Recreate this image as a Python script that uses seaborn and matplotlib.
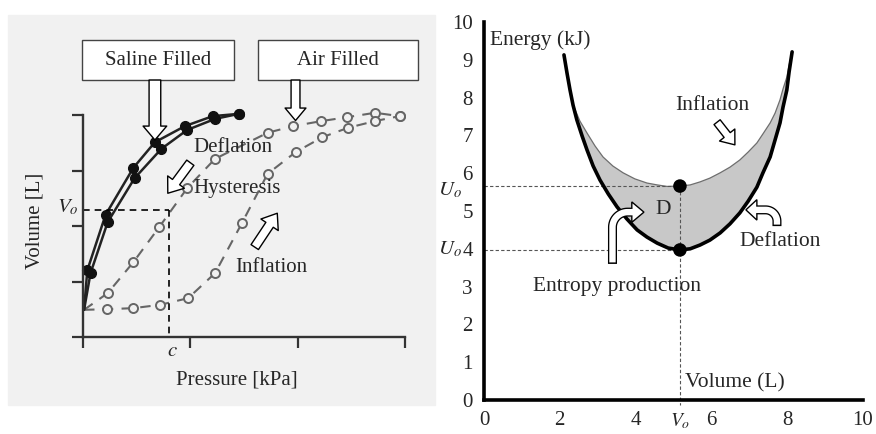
import numpy as np
import matplotlib
matplotlib.use('Agg')
import matplotlib.pyplot as plt
import seaborn as sns
from matplotlib.patches import Rectangle, Polygon

# Left panel: pressure-volume curves (axis units)
saline_p_a = [0.01, 0.04, 0.21, 0.47, 0.67, 0.95, 1.21, 1.45]
saline_v_a = [0.49, 1.20, 2.20, 3.05, 3.51, 3.80, 3.98, 4.02]
saline_p_b = [0.01, 0.07, 0.23, 0.48, 0.73, 0.97, 1.23, 1.45]
saline_v_b = [0.49, 1.15, 2.07, 2.86, 3.39, 3.73, 3.93, 4.02]

air_defl_p = [0.01, 0.23, 0.47, 0.71, 0.97, 1.23, 1.72, 1.96, 2.22, 2.46, 2.72, 2.95]
air_defl_v = [0.49, 0.79, 1.35, 1.98, 2.68, 3.21, 3.68, 3.80, 3.89, 3.96, 4.04, 3.98]
air_infl_p = [0.01, 0.22, 0.47, 0.72, 0.98, 1.23, 1.48, 1.72, 1.98, 2.23, 2.47, 2.72, 2.95]
air_infl_v = [0.49, 0.50, 0.52, 0.58, 0.70, 1.15, 2.05, 2.94, 3.33, 3.60, 3.77, 3.89, 3.98]

v_o_left = 2.29
c_left = 0.80

# Right panel: energy vs volume
defl_vol = [2.11, 2.19, 2.27, 2.35, 2.45, 2.59, 2.72, 2.88, 3.06, 3.28, 3.51, 3.77, 4.04, 4.30,
            4.57, 4.86, 5.17, 5.44, 5.70, 5.96, 6.23, 6.49, 6.75, 6.97, 7.20, 7.36, 7.55, 7.68,
            7.81, 7.89, 7.99, 8.05, 8.13]
defl_energy = [9.13, 8.65, 8.20, 7.80, 7.41, 6.98, 6.61, 6.19, 5.82, 5.45, 5.11, 4.79, 4.50, 4.31,
               4.15, 4.02, 3.97, 4.00, 4.10, 4.23, 4.42, 4.66, 4.95, 5.26, 5.63, 6.01, 6.43, 6.88,
               7.33, 7.75, 8.20, 8.68, 9.21]
infl_vol = [2.37, 2.53, 2.72, 2.93, 3.14, 3.40, 3.67, 3.98, 4.30, 4.57, 4.83, 5.17, 5.44, 5.70,
            5.96, 6.23, 6.49, 6.75, 6.97, 7.20, 7.36, 7.55, 7.68, 7.81, 7.89, 7.99, 8.05, 8.13]
infl_energy = [7.76, 7.38, 7.06, 6.72, 6.43, 6.19, 6.01, 5.85, 5.74, 5.69, 5.65, 5.66, 5.69, 5.77,
               5.87, 6.01, 6.16, 6.35, 6.56, 6.80, 7.04, 7.33, 7.59, 7.94, 8.23, 8.54, 8.86, 9.21]
ticks_right = [0, 2, 4, 6, 8, 10]
yticks_right = list(range(0, 11))

SERIF = ['Liberation Serif', 'DejaVu Serif']


def bent_arrow(ax, x0, y0, yh, r, xb, xt, hw, d):
    # hollow bent arrow: vertical shaft, quarter turn, horizontal head
    th = np.linspace(np.pi if d > 0 else 0.0, np.pi / 2, 25)
    cx, cy = x0 + d * r, yh - r
    xs = np.concatenate([[x0], cx + r * np.cos(th), [xb]])
    ys = np.concatenate([[y0], cy + r * np.sin(th), [yh]])
    ax.plot(xs, ys, color='black', lw=6.5, solid_capstyle='butt', zorder=6)
    ax.add_patch(Polygon([(xb, yh - hw), (xt, yh), (xb, yh + hw)], closed=True,
                         fc='white', ec='black', lw=1.0, zorder=7))
    xs_w = xs.copy(); ys_w = ys.copy()
    ys_w[0] = y0 + 0.04
    xs_w[-1] = xb + d * 0.04
    ax.plot(xs_w, ys_w, color='white', lw=4.6, solid_capstyle='butt', zorder=8)


sns.set_style('white')
plt.rcParams['font.family'] = SERIF
plt.rcParams['mathtext.fontset'] = 'stix'

fig = plt.figure(figsize=(8.76, 4.34), dpi=100)
fig.add_artist(Rectangle((8 / 876, 29 / 434), 427 / 876, 390 / 434, transform=fig.transFigure,
                         color='#f1f1f1', zorder=-1))

# ---------------- left panel ----------------
axl = fig.add_axes([83 / 876, 97 / 434, 322 / 876, 222 / 434])
axl.set_facecolor('none')
axl.set_xlim(0, 3)
axl.set_ylim(0, 4)
for s in ['top', 'right']:
    axl.spines[s].set_visible(False)
for s in ['left', 'bottom']:
    axl.spines[s].set_color('#333333')
    axl.spines[s].set_linewidth(1.7)
axl.set_xticks([0, 1, 2, 3])
axl.set_yticks([0, 1, 2, 3, 4])
axl.tick_params(direction='out', length=8, width=1.6, color='#333333',
                labelbottom=False, labelleft=False, bottom=True, left=True)

for p, v in [(air_defl_p, air_defl_v), (air_infl_p, air_infl_v)]:
    sns.lineplot(x=p, y=v, ax=axl, color='#666666', lw=1.5, linestyle=(0, (5, 4)),
                 marker='o', markersize=6.5, mfc='#f1f1f1', mec='#666666', mew=1.4,
                 markevery=list(range(1, len(p))), estimator=None, sort=False, clip_on=False)
for p, v in [(saline_p_a, saline_v_a), (saline_p_b, saline_v_b)]:
    sns.lineplot(x=p, y=v, ax=axl, color='#222222', lw=1.8,
                 marker='o', markersize=7, mfc='#111111', mec='#111111', mew=1,
                 markevery=list(range(1, len(p))), estimator=None, sort=False, clip_on=False)

axl.plot([0, c_left], [v_o_left, v_o_left], color='black', lw=1.2, ls=(0, (4, 3)), clip_on=False)
axl.plot([c_left, c_left], [v_o_left, 0.03], color='black', lw=1.2, ls=(0, (4, 3)), clip_on=False)

axl.text(-0.04, v_o_left + 0.05, r'$V_o$', fontsize=15, ha='right', va='center')
axl.text(c_left + 0.03, -0.26, r'$c$', fontsize=15, ha='center', va='center')
axl.text(1.43, -0.78, 'Pressure [kPa]', fontsize=15, ha='center', va='center')
axl.text(-0.45, 2.1, 'Volume [L]', fontsize=15, ha='center', va='center', rotation=90)

for x0, x1, label in [(-0.01, 1.41, 'Saline Filled'), (1.63, 3.12, 'Air Filled')]:
    axl.add_patch(Rectangle((x0, 4.63), x1 - x0, 0.72, fc='white', ec='#444444', lw=1.0,
                            clip_on=False, zorder=4))
    axl.text((x0 + x1) / 2, 4.99, label, fontsize=15, ha='center', va='center', zorder=5)

arrow_kw = dict(fc='white', ec='black', lw=1.0, shrinkA=0, shrinkB=0)
axl.annotate('', xy=(0.67, 3.55), xytext=(0.67, 4.63), annotation_clip=False,
             arrowprops=dict(arrowstyle='simple,head_length=0.5,head_width=0.85,tail_width=0.42',
                             mutation_scale=20, **arrow_kw), zorder=6)
axl.annotate('', xy=(1.98, 3.90), xytext=(1.98, 4.63), annotation_clip=False,
             arrowprops=dict(arrowstyle='simple,head_length=0.45,head_width=0.75,tail_width=0.32',
                             mutation_scale=20, **arrow_kw), zorder=6)
axl.annotate('', xy=(0.79, 2.59), xytext=(1.00, 3.14), annotation_clip=False,
             arrowprops=dict(arrowstyle='simple,head_length=0.5,head_width=0.75,tail_width=0.32',
                             mutation_scale=20, **arrow_kw), zorder=6)
axl.annotate('', xy=(1.81, 2.23), xytext=(1.60, 1.62), annotation_clip=False,
             arrowprops=dict(arrowstyle='simple,head_length=0.5,head_width=0.75,tail_width=0.32',
                             mutation_scale=20, **arrow_kw), zorder=6)
axl.text(1.03, 3.42, 'Deflation', fontsize=15, ha='left', va='center')
axl.text(1.03, 2.68, 'Hysteresis', fontsize=15, ha='left', va='center')
axl.text(1.42, 1.26, 'Inflation', fontsize=15, ha='left', va='center')

# ---------------- right panel ----------------
axr = fig.add_axes([484 / 876, 34 / 434, 379 / 876, 378 / 434])
axr.set_facecolor('none')
axr.set_xlim(0, 10)
axr.set_ylim(0, 10)
for s in ['top', 'right']:
    axr.spines[s].set_visible(False)
for s in ['left', 'bottom']:
    axr.spines[s].set_color('black')
    axr.spines[s].set_linewidth(2.6)
axr.set_xticks(ticks_right)
axr.set_yticks(yticks_right)
axr.tick_params(length=0, labelsize=15, pad=8)
for lab in axr.get_xticklabels() + axr.get_yticklabels():
    lab.set_family(SERIF)

i_min = int(np.argmin(defl_energy))
v0 = defl_vol[i_min]
u_low = defl_energy[i_min]
u_high = infl_energy[infl_vol.index(v0)]

lower_x = [x for x in defl_vol if x >= infl_vol[0]]
lower_y = [y for x, y in zip(defl_vol, defl_energy) if x >= infl_vol[0]]
axr.fill(np.concatenate([infl_vol, lower_x[::-1]]), np.concatenate([infl_energy, lower_y[::-1]]),
         color='#c8c8c8', lw=0, zorder=1)
sns.lineplot(x=infl_vol, y=infl_energy, ax=axr, color='#6e6e6e', lw=0.9, estimator=None, sort=False, zorder=2)
sns.lineplot(x=defl_vol, y=defl_energy, ax=axr, color='black', lw=2.6, estimator=None, sort=False, zorder=3)

dash_kw = dict(color='#555555', lw=0.8, ls=(0, (3, 2)), zorder=2)
axr.plot([0, v0], [u_high, u_high], **dash_kw)
axr.plot([0, v0], [u_low, u_low], **dash_kw)
axr.plot([v0, v0], [u_high, -0.13], clip_on=False, **dash_kw)
sns.scatterplot(x=[v0, v0], y=[u_high, u_low], ax=axr, s=95, color='black', edgecolor='none', zorder=5)

axr.text(-0.58, u_high - 0.12, r'$U_o$', fontsize=15, ha='right', va='center')
axr.text(-0.58, u_low + 0.02, r'$U_o$', fontsize=15, ha='right', va='center')
axr.text(v0, -0.55, r'$V_o$', fontsize=14, ha='center', va='center')

axr.text(0.16, 9.52, 'Energy (kJ)', fontsize=15.5, ha='left', va='center')
axr.text(6.02, 7.80, 'Inflation', fontsize=15.5, ha='center', va='center')
axr.text(7.81, 4.18, 'Deflation', fontsize=15.5, ha='center', va='center')
axr.text(4.72, 5.03, 'D', fontsize=15.5, ha='center', va='center', zorder=9)
axr.text(3.51, 2.99, 'Entropy production', fontsize=15.5, ha='center', va='center')
axr.text(5.30, 0.45, 'Volume (L)', fontsize=15.5, ha='left', va='center')

axr.annotate('', xy=(6.62, 6.75), xytext=(6.15, 7.35),
             arrowprops=dict(arrowstyle='simple,head_length=0.45,head_width=0.7,tail_width=0.28',
                             mutation_scale=20, **arrow_kw), zorder=6)
bent_arrow(axr, 3.39, 3.60, 4.97, 0.40, 3.90, 4.22, 0.27, 1)
bent_arrow(axr, 7.73, 4.60, 5.03, 0.30, 7.20, 6.91, 0.27, -1)

fig.savefig('out.png', dpi=100)
